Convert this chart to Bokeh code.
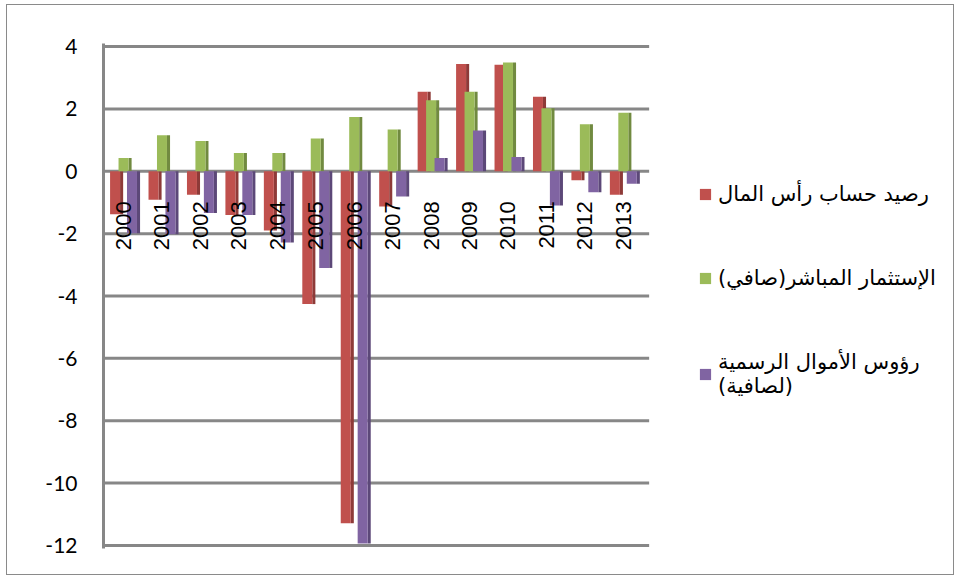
from math import pi
from bokeh.plotting import figure
from bokeh.models import ColumnDataSource, Range1d, FixedTicker, Legend, LegendItem
from bokeh.transform import dodge
from bokeh.core.properties import value
from bokeh.embed import file_html
from bokeh.resources import INLINE

# ---- data ----
years = [2000, 2001, 2002, 2003, 2004, 2005, 2006, 2007, 2008, 2009, 2010, 2011, 2012, 2013]
year_labels = [str(y) for y in years]
capital_balance = [-1.38, -0.91, -0.75, -1.40, -1.90, -4.26, -11.29, -1.13, 2.55, 3.44, 3.42, 2.39, -0.29, -0.75]
fdi_net = [0.43, 1.16, 0.97, 0.59, 0.59, 1.05, 1.74, 1.34, 2.28, 2.55, 3.49, 2.02, 1.51, 1.88]
official_capital = [-1.99, -2.02, -1.34, -1.40, -2.28, -3.10, -11.94, -0.81, 0.43, 1.31, 0.46, -1.10, -0.67, -0.40]
series_names = [
    "\u200fرصيد حساب رأس المال\u200f",
    "\u200fالإستثمار المباشر(صافي)\u200f",
    "\u200fرؤوس الأموال الرسمية\u200f\n\u200f(لصافية)\u200f",
]
y_ticks = [-12, -10, -8, -6, -4, -2, 0, 2, 4]
y_tick_labels = {t: str(t) for t in y_ticks}

front_colors = ["#C0504D", "#9BBB59", "#8064A2"]
side_colors = ["#8E3A38", "#718A40", "#5C4878"]
offsets = [-0.22, 0.0, 0.22]

# plot-area geometry (category slot = 38.4 px, plot area 545 px, legend area to the right)
x_start = 1999.479
grid_end = x_start + 545 / 38.4
x_end = x_start + 845 / 38.4

src = ColumnDataSource(dict(year=years, label=year_labels, s0=capital_balance, s1=fdi_net, s2=official_capital))
grid_src = ColumnDataSource(dict(y=y_ticks, x0=[x_start] * len(y_ticks), x1=[grid_end] * len(y_ticks)))

p = figure(width=948, height=571,
           x_range=Range1d(x_start, x_end), y_range=Range1d(-12.1, 4.1),
           output_backend="svg", toolbar_location=None,
           min_border_left=96, min_border_right=6, min_border_top=38, min_border_bottom=28)
p.styles = {"border": "1px solid #8a8a8a", "margin-left": "6px", "margin-top": "4px"}

p.outline_line_color = None
p.xaxis.visible = False
p.xgrid.grid_line_color = None
p.ygrid.grid_line_color = None

p.segment(x0="x0", x1="x1", y0="y", y1="y", source=grid_src,
          line_color="#878787", line_width=3, level="underlay")

p.yaxis.ticker = FixedTicker(ticks=y_ticks)
p.yaxis.major_label_overrides = y_tick_labels
p.yaxis.axis_line_color = "#878787"
p.yaxis.axis_line_width = 3
p.yaxis.major_tick_line_color = None
p.yaxis.minor_tick_line_color = None
p.yaxis.major_label_text_font = "Lato"
p.yaxis.major_label_text_font_size = "21px"
p.yaxis.major_label_text_color = "#000000"
p.yaxis.major_label_standoff = 20

front_renderers = []
for i, col in enumerate(["s0", "s1", "s2"]):
    p.vbar(x=dodge("year", offsets[i] + 0.17, range=p.x_range), top=col, bottom=0, width=0.08,
           source=src, fill_color=side_colors[i], line_color=None)
    r = p.vbar(x=dodge("year", offsets[i], range=p.x_range), top=col, bottom=0, width=0.26,
               source=src, fill_color=front_colors[i], line_color=None)
    front_renderers.append(r)

p.text(x="year", y=0, text="label", source=src, angle=pi / 2, text_align="right",
       text_baseline="middle", y_offset=30, text_font=value("Liberation Sans"),
       text_font_size="22px", text_color="#000000")

legend = Legend(items=[LegendItem(label=series_names[i], renderers=[front_renderers[i]]) for i in range(3)],
                location=(595, 150), glyph_width=14, glyph_height=14,
                label_text_font="DejaVu Sans", label_text_font_size="21px",
                label_text_color="#000000", spacing=60, padding=0, margin=0,
                border_line_color=None, background_fill_alpha=0, label_standoff=6)
p.add_layout(legend)

open("out.html", "w").write(file_html(p, INLINE))
